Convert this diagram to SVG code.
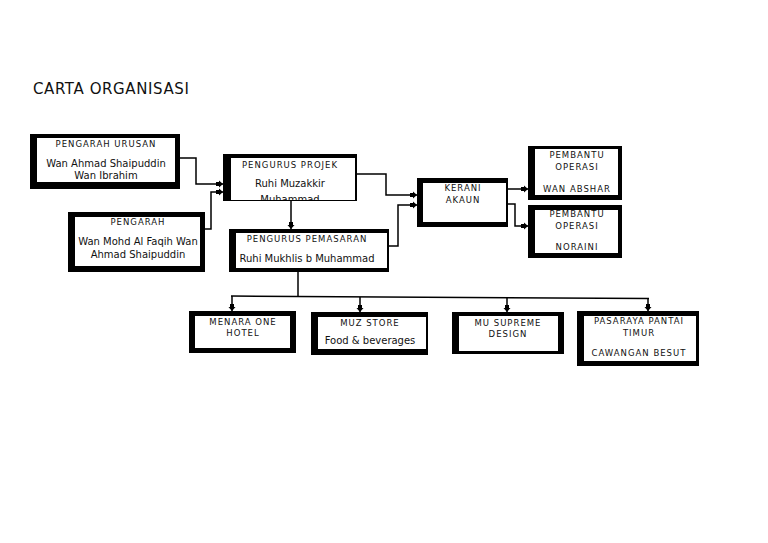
<svg xmlns="http://www.w3.org/2000/svg" width="768" height="543" viewBox="0 0 768 543">
<style>
.frame{fill:#000}
.inner{fill:#fff}
.t{font-family:"DejaVu Sans",sans-serif;font-size:8.5px;letter-spacing:1px;fill:#111;text-anchor:middle}
.n{font-family:"DejaVu Sans",sans-serif;font-size:10px;fill:#111;text-anchor:middle}
.title{font-family:"DejaVu Sans",sans-serif;font-size:15px;letter-spacing:0.6px;fill:#111}
.c{fill:none;stroke:#000;stroke-width:1.5}
</style>
<defs>
<marker id="ah" markerUnits="userSpaceOnUse" markerWidth="8" markerHeight="8" refX="7" refY="4" orient="auto">
<path d="M0,2 L3,2 L3,0.5 L7,4 L3,7.5 L3,6 L0,6 z" fill="#000"/>
</marker>
<clipPath id="cpProjek"><rect x="231" y="158" width="124" height="42"/></clipPath>
</defs>
<rect width="768" height="543" fill="#fff"/>
<text class="title" x="33" y="94">CARTA ORGANISASI</text>

<g id="connectors">
<polyline class="c" points="180,158 196,158 196,184 223,184" marker-end="url(#ah)"/>
<polyline class="c" points="205,229 211,229 211,192 223,192" marker-end="url(#ah)"/>
<polyline class="c" points="291,201 291,229" marker-end="url(#ah)"/>
<polyline class="c" points="357,174 386,174 386,195 417,195" marker-end="url(#ah)"/>
<polyline class="c" points="389,246 398,246 398,205 417,205" marker-end="url(#ah)"/>
<polyline class="c" points="508,189 528,189" marker-end="url(#ah)"/>
<polyline class="c" points="508,204 515,204 515,226 528,226" marker-end="url(#ah)"/>
<polyline class="c" points="298,271 298,296"/>
<line class="c" x1="231" y1="296" x2="649" y2="298.5"/>
<polyline class="c" points="232,296 232,311" marker-end="url(#ah)"/>
<polyline class="c" points="360,297 360,312" marker-end="url(#ah)"/>
<polyline class="c" points="507,298 507,312" marker-end="url(#ah)"/>
<polyline class="c" points="648,298.5 648,311" marker-end="url(#ah)"/>
</g>

<g id="pengarah-urusan">
<rect class="frame" x="30" y="134" width="150" height="55"/>
<rect class="inner" x="37" y="138" width="138" height="44"/>
<text class="t" x="106" y="147">PENGARAH URUSAN</text>
<text class="n" x="106" y="167">Wan Ahmad Shaipuddin</text>
<text class="n" x="106" y="179">Wan Ibrahim</text>
</g>

<g id="pengarah">
<rect class="frame" x="68" y="212" width="137" height="60"/>
<rect class="inner" x="75" y="217" width="125" height="49"/>
<text class="t" x="138" y="225">PENGARAH</text>
<text class="n" x="138" y="245">Wan Mohd Al Faqih Wan</text>
<text class="n" x="138" y="258">Ahmad Shaipuddin</text>
</g>

<g id="pengurus-projek">
<rect class="frame" x="223" y="154" width="134" height="47"/>
<rect class="inner" x="231" y="158" width="124" height="42"/>
<text class="t" x="290" y="168">PENGURUS PROJEK</text>
<text class="n" x="290" y="187">Ruhi Muzakkir</text>
<text class="n" x="290" y="203" clip-path="url(#cpProjek)">Muhammad</text>
</g>

<g id="pengurus-pemasaran">
<rect class="frame" x="229" y="229" width="160" height="43"/>
<rect class="inner" x="236" y="233" width="151" height="35"/>
<text class="t" x="307" y="242">PENGURUS PEMASARAN</text>
<text class="n" x="307" y="262">Ruhi Mukhlis b Muhammad</text>
</g>

<g id="kerani-akaun">
<rect class="frame" x="417" y="178" width="91" height="49"/>
<rect class="inner" x="423" y="183" width="83" height="39"/>
<text class="t" x="463" y="191">KERANI</text>
<text class="t" x="463" y="203">AKAUN</text>
</g>

<g id="pembantu-operasi-1">
<rect class="frame" x="528" y="146" width="94" height="54"/>
<rect class="inner" x="535" y="149" width="83" height="46"/>
<text class="t" x="577" y="158">PEMBANTU</text>
<text class="t" x="577" y="170">OPERASI</text>
<text class="t" x="577" y="192">WAN ABSHAR</text>
</g>

<g id="pembantu-operasi-2">
<rect class="frame" x="528" y="205" width="94" height="53"/>
<rect class="inner" x="535" y="210" width="83" height="43"/>
<text class="t" x="577" y="217">PEMBANTU</text>
<text class="t" x="577" y="229">OPERASI</text>
<text class="t" x="577" y="250">NORAINI</text>
</g>

<g id="menara-one-hotel">
<rect class="frame" x="189" y="311" width="107" height="42"/>
<rect class="inner" x="195" y="316" width="95" height="32"/>
<text class="t" x="243" y="325">MENARA ONE</text>
<text class="t" x="243" y="336">HOTEL</text>
</g>

<g id="muz-store">
<rect class="frame" x="311" y="312" width="117" height="43"/>
<rect class="inner" x="318" y="317" width="108" height="32"/>
<text class="t" x="370" y="326">MUZ STORE</text>
<text class="n" x="370" y="344">Food &amp; beverages</text>
</g>

<g id="mu-supreme-design">
<rect class="frame" x="452" y="312" width="112" height="42"/>
<rect class="inner" x="459" y="316" width="99" height="35"/>
<text class="t" x="508" y="326">MU SUPREME</text>
<text class="t" x="508" y="337">DESIGN</text>
</g>

<g id="pasaraya-pantai-timur">
<rect class="frame" x="577" y="311" width="122" height="55"/>
<rect class="inner" x="584" y="316" width="112" height="45"/>
<text class="t" x="639" y="324">PASARAYA PANTAI</text>
<text class="t" x="639" y="336">TIMUR</text>
<text class="t" x="639" y="356">CAWANGAN BESUT</text>
</g>
</svg>
